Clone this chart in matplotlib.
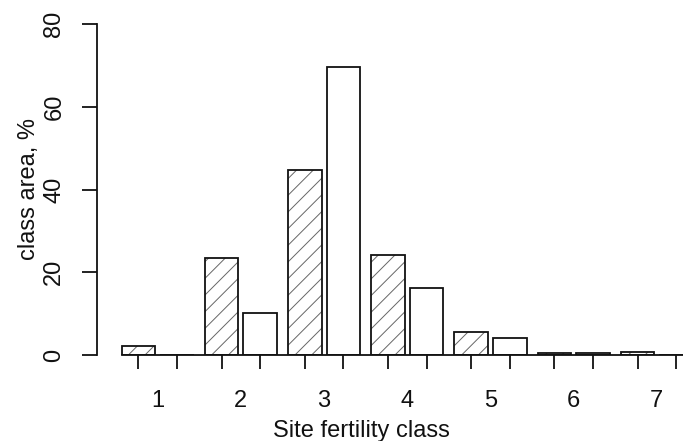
import matplotlib.pyplot as plt
import numpy as np

# class area (%) per site fertility class, two series drawn side by side
classes = [1, 2, 3, 4, 5, 6, 7]
hatched = [2.2, 23.4, 44.7, 24.1, 5.6, 0.4, 0.8]
plain = [0.0, 10.1, 69.6, 16.3, 4.2, 0.4, 0.0]
yticks = [0, 20, 40, 60, 80]

plt.rcParams['font.family'] = ['Liberation Sans', 'DejaVu Sans']
plt.rcParams['hatch.linewidth'] = 0.7

fig = plt.figure(figsize=(6.83, 4.41), dpi=100)
ax = fig.add_axes([97 / 683, 86 / 441, 586 / 683, 331 / 441])

x = np.array(classes, dtype=float)
off = 0.232
w = 0.404

# hatching in grey, outline in black (separate calls so colours differ)
ax.bar(x - off, hatched, width=w, color='white', edgecolor='#666666',
       hatch='//', linewidth=0, zorder=2)
ax.bar(x - off, hatched, width=w, fill=False, edgecolor='#111111',
       linewidth=1.3, zorder=3)
ax.bar(x + off, plain, width=w, color='white', edgecolor='#111111',
       linewidth=1.3, zorder=3)

ax.set_xlim(0.270, 7.315)
ax.set_ylim(0, 80)

for s in ['top', 'right']:
    ax.spines[s].set_visible(False)
ax.spines['left'].set_bounds(0, 80)
ax.spines['bottom'].set_bounds(1 - off - w / 2, 7.315)
for s in ['left', 'bottom']:
    ax.spines[s].set_linewidth(1.3)
    ax.spines[s].set_color('#111111')
    ax.spines[s].set_zorder(4)

ax.set_yticks(yticks)
ax.set_yticklabels([str(v) for v in yticks], rotation=90, va='center')
ax.tick_params(axis='y', length=10.8, width=1.3, pad=12, labelsize=17,
               colors='#111111')

pos = np.sort(np.concatenate([x - off, x + off]))
ax.set_xticks(pos)
ax.set_xticklabels([])
ax.set_xticks(x, minor=True)
ax.set_xticklabels([str(c) for c in classes], minor=True)
ax.tick_params(axis='x', which='major', length=10, width=1.3,
               color='#111111')
ax.tick_params(axis='x', which='minor', length=0, pad=25, labelsize=17,
               labelcolor='#111111')

ax.set_xlabel('Site fertility class', fontsize=17, color='#111111')
ax.xaxis.set_label_coords(0.452, -0.195)
ax.set_ylabel('class area, %', fontsize=17, color='#111111')
ax.yaxis.set_label_coords(-0.098, 0.5)

fig.savefig('out.png', dpi=100)
